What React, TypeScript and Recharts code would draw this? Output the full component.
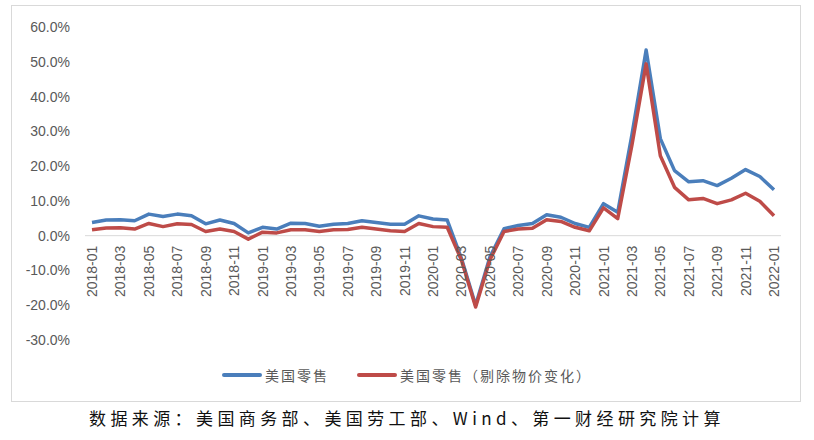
import React from 'react';
import { LineChart, Line, XAxis, YAxis, ReferenceLine, Legend } from 'recharts';

const months = [
  '2018-01','2018-02','2018-03','2018-04','2018-05','2018-06','2018-07','2018-08','2018-09','2018-10','2018-11','2018-12',
  '2019-01','2019-02','2019-03','2019-04','2019-05','2019-06','2019-07','2019-08','2019-09','2019-10','2019-11','2019-12',
  '2020-01','2020-02','2020-03','2020-04','2020-05','2020-06','2020-07','2020-08','2020-09','2020-10','2020-11','2020-12',
  '2021-01','2021-02','2021-03','2021-04','2021-05','2021-06','2021-07','2021-08','2021-09','2021-10','2021-11','2021-12',
  '2022-01',
];

const retailNominal = [
  3.8, 4.5, 4.6, 4.3, 6.2, 5.5, 6.2, 5.7, 3.4, 4.5, 3.5, 0.8,
  2.4, 1.9, 3.6, 3.5, 2.7, 3.3, 3.5, 4.3, 3.8, 3.3, 3.3, 5.7,
  4.8, 4.5, -6.5, -20.0, -6.2, 2.0, 2.9, 3.5, 6.0, 5.3, 3.5, 2.4,
  9.2, 6.7, 29.0, 53.4, 27.9, 18.7, 15.5, 15.8, 14.4, 16.5, 19.0, 17.0,
  13.2,
];

const retailReal = [
  1.7, 2.2, 2.3, 1.9, 3.5, 2.6, 3.4, 3.2, 1.2, 1.9, 1.2, -1.0,
  1.0, 0.8, 1.7, 1.7, 1.2, 1.7, 1.8, 2.4, 1.9, 1.4, 1.2, 3.5,
  2.6, 2.4, -7.0, -20.5, -7.0, 1.2, 1.9, 2.1, 4.6, 4.1, 2.4, 1.4,
  8.0, 4.9, 26.0, 49.4, 23.0, 13.9, 10.3, 10.7, 9.2, 10.3, 12.2, 9.9,
  5.7,
];

const seriesNames = ['美国零售', '美国零售（剔除物价变化）'];
const seriesColors = ['#4A7EBB', '#BE4B48'];
const yTicks = [-30, -20, -10, 0, 10, 20, 30, 40, 50, 60];
const sourceText = '数据来源：美国商务部、美国劳工部、Wind、第一财经研究院计算';

const data = months.map((m, i) => ({ month: m, nominal: retailNominal[i], real: retailReal[i] }));

const W = 814;
const H = 440;
const PLOT_TOP = 27;
const PLOT_BOTTOM = 340;
const Y_MIN = -30;
const Y_MAX = 60;
const ZERO_Y = PLOT_TOP + ((Y_MAX - 0) / (Y_MAX - Y_MIN)) * (PLOT_BOTTOM - PLOT_TOP);
const FONT = '"Liberation Sans", Arial, sans-serif';

const XTick = (props: any) => {
  const { x, payload } = props;
  const ty = ZERO_Y + 10;
  return (
    <text
      x={x}
      y={ty}
      transform={`rotate(-90, ${x}, ${ty})`}
      textAnchor="end"
      dy="0.36em"
      fill="#595959"
      fontSize={14}
      fontFamily={FONT}
    >
      {payload.value}
    </text>
  );
};

const LegendContent = () => (
  <div style={{ display: 'flex', justifyContent: 'center', alignItems: 'center', width: W, fontFamily: '"Noto Sans CJK SC", sans-serif', fontSize: 14, color: '#595959', letterSpacing: 2 }}>
    {seriesNames.map((n, i) => (
      <div key={n} style={{ display: 'flex', alignItems: 'center', marginRight: i === 0 ? 28 : 0 }}>
        <div style={{ width: 40, height: 4, background: seriesColors[i], borderRadius: 2, marginRight: 3 }} />
        <span>{n}</span>
      </div>
    ))}
  </div>
);

export default function App() {
  return (
    <div style={{ position: 'relative', width: W, height: H, background: '#fff', overflow: 'hidden' }}>
      <style>{`body{margin:0;}`}</style>
      <div style={{ position: 'absolute', left: 11, top: 5, width: 788, height: 395, border: '1px solid #d9d9d9' }} />
      <div style={{ position: 'absolute', left: 0, top: 0 }}>
        <LineChart width={W} height={H} data={data} margin={{ top: PLOT_TOP, right: 33, left: 0, bottom: H - PLOT_BOTTOM - 1 }}>
          <XAxis
            dataKey="month"
            height={1}
            axisLine={false}
            tickLine={false}
            interval={1}
            padding={{ left: 7, right: 7 }}
            tick={<XTick />}
          />
          <YAxis
            width={85}
            domain={[Y_MIN, Y_MAX]}
            ticks={yTicks}
            axisLine={false}
            tickLine={false}
            tickSize={0}
            tickMargin={15}
            tickFormatter={(v: number) => `${v.toFixed(1)}%`}
            tick={{ fill: '#595959', fontSize: 14, fontFamily: FONT }}
            interval={0}
          />
          <ReferenceLine y={0} stroke="#d9d9d9" strokeWidth={1} ifOverflow="extendDomain" />
          <Line type="linear" dataKey="nominal" name={seriesNames[0]} stroke={seriesColors[0]} strokeWidth={3.5} dot={false} isAnimationActive={false} strokeLinejoin="round" />
          <Line type="linear" dataKey="real" name={seriesNames[1]} stroke={seriesColors[1]} strokeWidth={3.5} dot={false} isAnimationActive={false} strokeLinejoin="round" />
          <Legend layout="horizontal" verticalAlign="middle" align="center" content={<LegendContent />} wrapperStyle={{ top: 365, left: 0, width: W }} />
        </LineChart>
      </div>
      <div style={{ position: 'absolute', left: 89, top: 405, fontFamily: '"Noto Sans CJK SC", serif', fontSize: 17, letterSpacing: 4.4, color: '#111', whiteSpace: 'nowrap', lineHeight: '26px' }}>
        {sourceText}
      </div>
    </div>
  );
}
